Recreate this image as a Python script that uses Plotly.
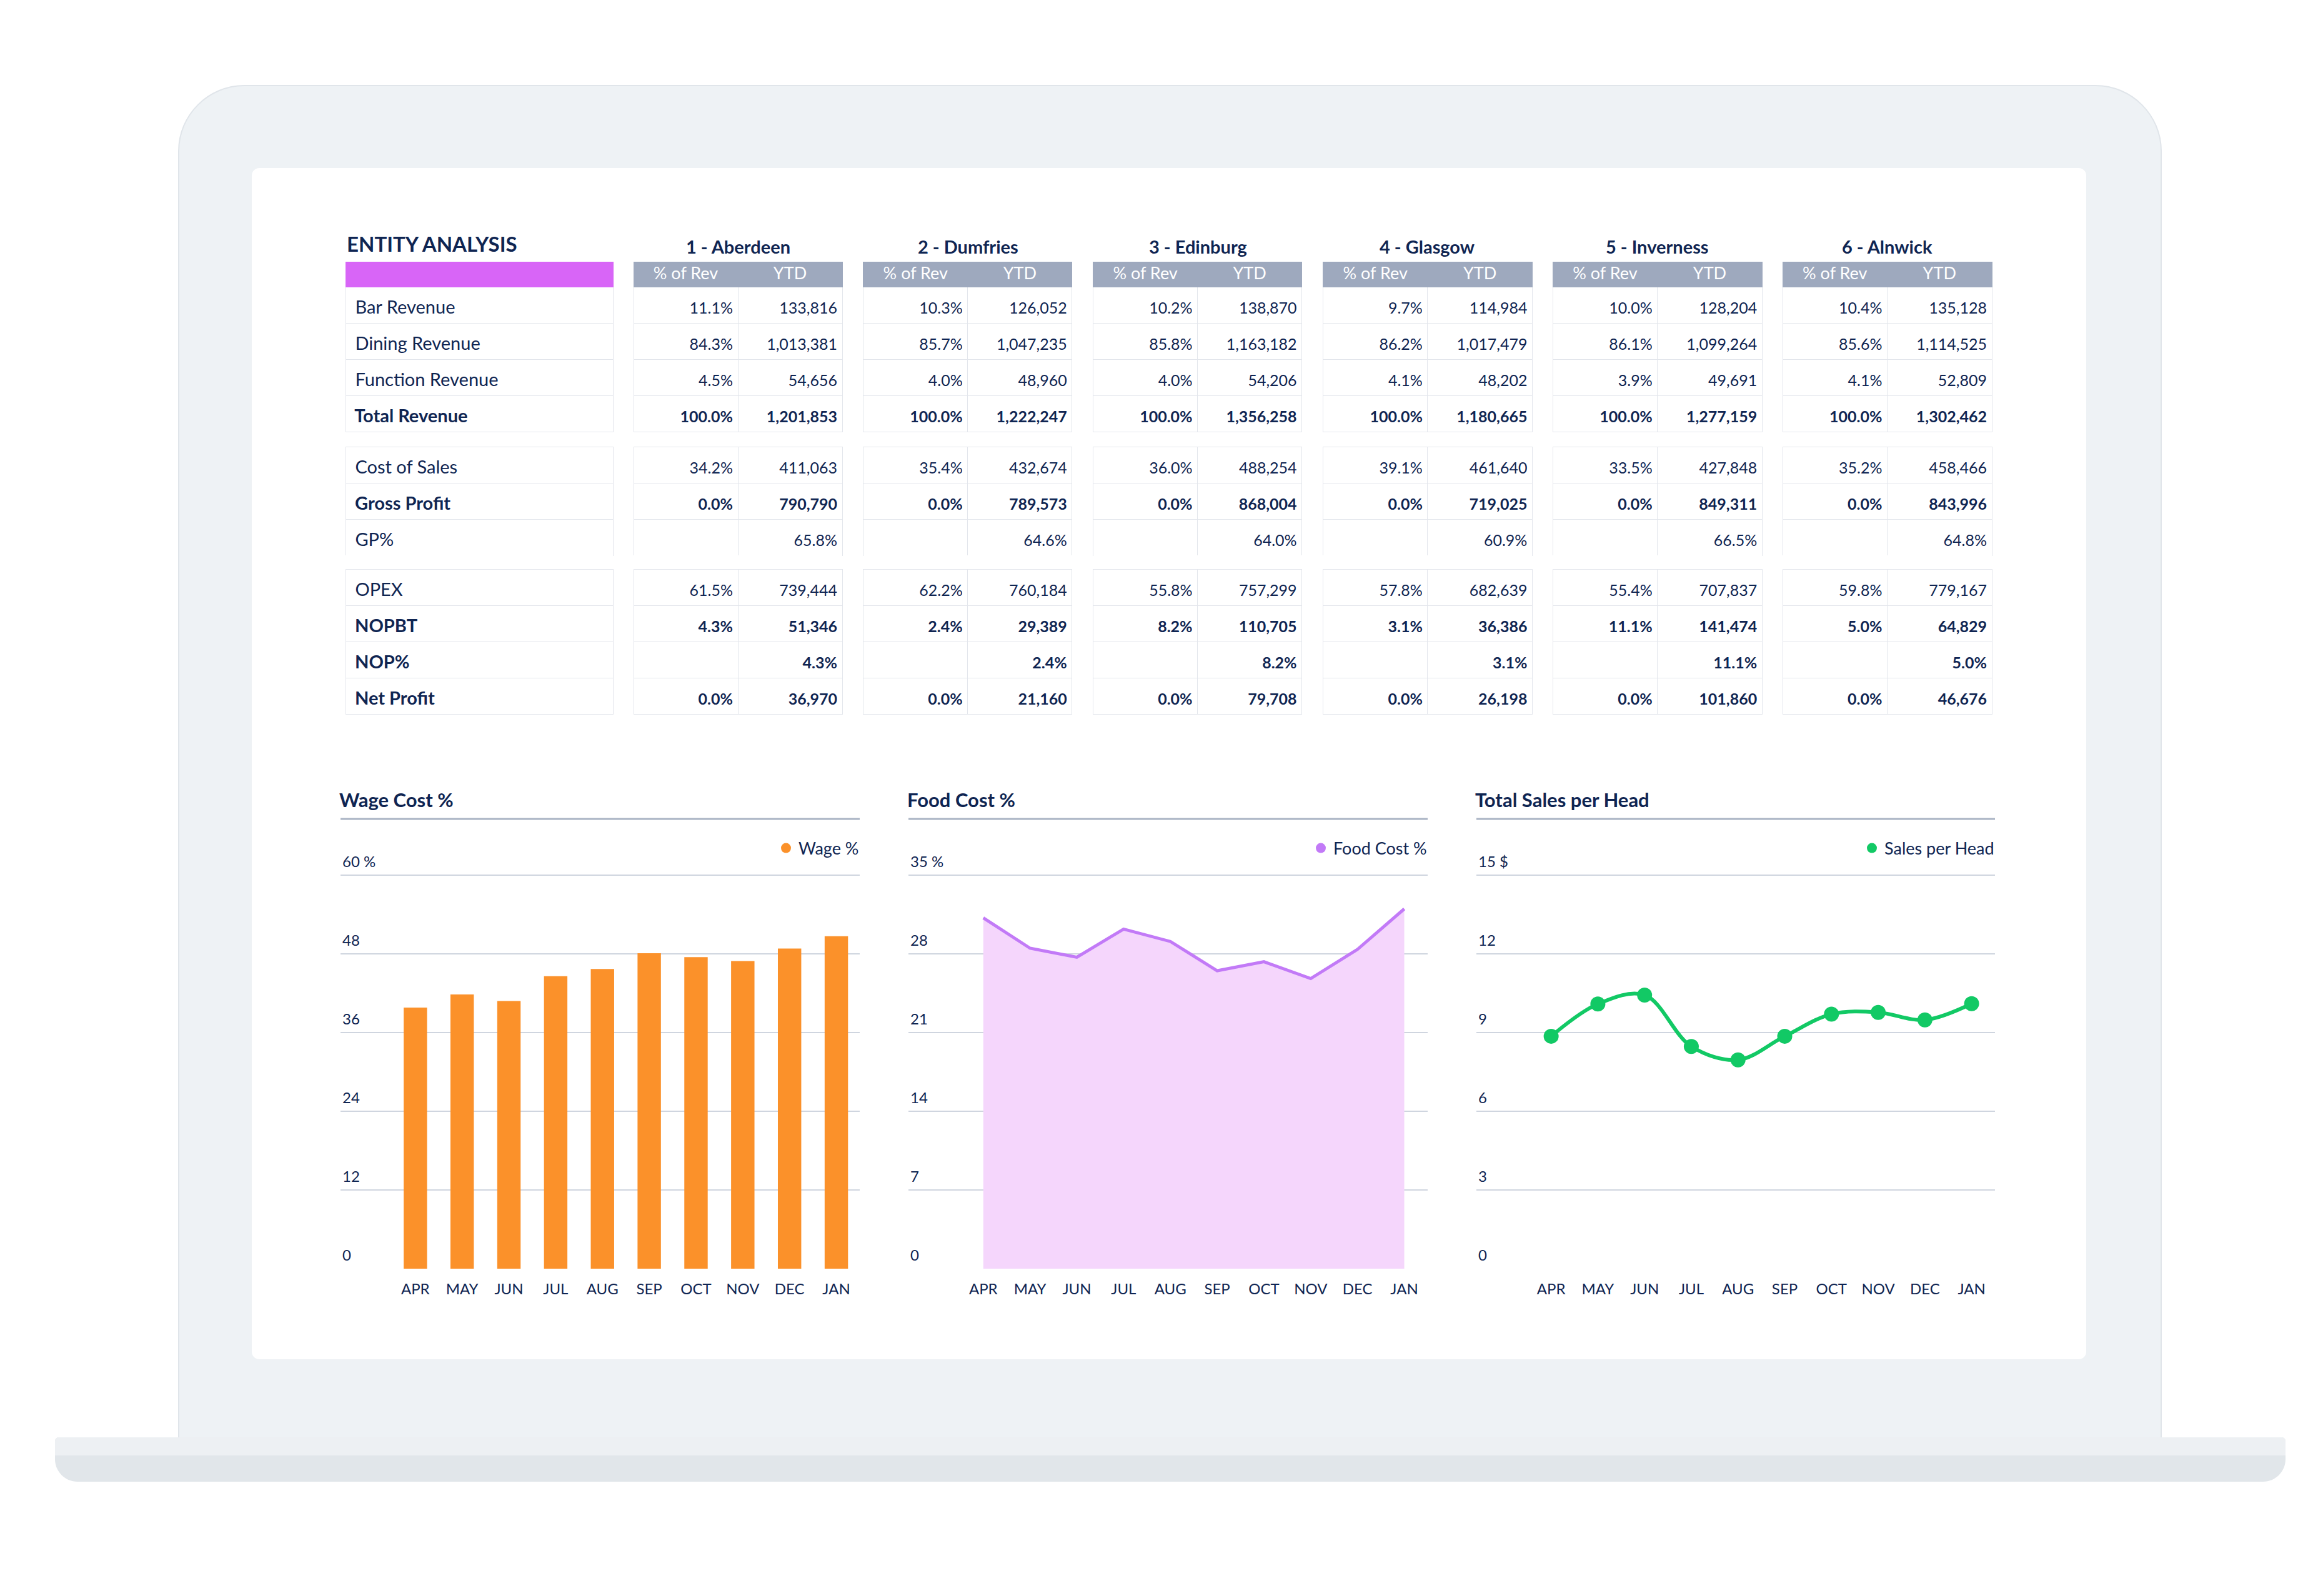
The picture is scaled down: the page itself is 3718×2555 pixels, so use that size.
import plotly.graph_objects as go

W, H = 3718, 2555

# ---- table data ----
entities = ["1 - Aberdeen", "2 - Dumfries", "3 - Edinburg", "4 - Glasgow", "5 - Inverness", "6 - Alnwick"]
row_labels = ["Bar Revenue", "Dining Revenue", "Function Revenue", "Total Revenue",
              "Cost of Sales", "Gross Profit", "GP%",
              "OPEX", "NOPBT", "NOP%", "Net Profit"]
bold_rows = ["Total Revenue", "Gross Profit", "NOPBT", "NOP%", "Net Profit"]
ratio_rows = ["GP%", "NOP%"]
col_heads = ["% of Rev", "YTD"]

# % of Rev column per entity (None = empty cell)
pct_aberdeen = [11.1, 84.3, 4.5, 100.0, 34.2, 0.0, None, 61.5, 4.3, None, 0.0]
pct_dumfries = [10.3, 85.7, 4.0, 100.0, 35.4, 0.0, None, 62.2, 2.4, None, 0.0]
pct_edinburg = [10.2, 85.8, 4.0, 100.0, 36.0, 0.0, None, 55.8, 8.2, None, 0.0]
pct_glasgow = [9.7, 86.2, 4.1, 100.0, 39.1, 0.0, None, 57.8, 3.1, None, 0.0]
pct_inverness = [10.0, 86.1, 3.9, 100.0, 33.5, 0.0, None, 55.4, 11.1, None, 0.0]
pct_alnwick = [10.4, 85.6, 4.1, 100.0, 35.2, 0.0, None, 59.8, 5.0, None, 0.0]

# YTD column per entity (GP% / NOP% rows are percentages)
ytd_aberdeen = [133816, 1013381, 54656, 1201853, 411063, 790790, 65.8, 739444, 51346, 4.3, 36970]
ytd_dumfries = [126052, 1047235, 48960, 1222247, 432674, 789573, 64.6, 760184, 29389, 2.4, 21160]
ytd_edinburg = [138870, 1163182, 54206, 1356258, 488254, 868004, 64.0, 757299, 110705, 8.2, 79708]
ytd_glasgow = [114984, 1017479, 48202, 1180665, 461640, 719025, 60.9, 682639, 36386, 3.1, 26198]
ytd_inverness = [128204, 1099264, 49691, 1277159, 427848, 849311, 66.5, 707837, 141474, 11.1, 101860]
ytd_alnwick = [135128, 1114525, 52809, 1302462, 458466, 843996, 64.8, 779167, 64829, 5.0, 46676]

pct_all = [pct_aberdeen, pct_dumfries, pct_edinburg, pct_glasgow, pct_inverness, pct_alnwick]
ytd_all = [ytd_aberdeen, ytd_dumfries, ytd_edinburg, ytd_glasgow, ytd_inverness, ytd_alnwick]

# ---- chart data ----
months = ["APR", "MAY", "JUN", "JUL", "AUG", "SEP", "OCT", "NOV", "DEC", "JAN"]
wage_pct = [39.8, 41.8, 40.8, 44.6, 45.7, 48.1, 47.5, 46.9, 48.8, 50.7]
food_cost_pct = [31.2, 28.5, 27.7, 30.2, 29.1, 26.5, 27.3, 25.8, 28.4, 32.0]
sales_per_head = [8.86, 10.09, 10.43, 8.47, 7.96, 8.86, 9.70, 9.77, 9.48, 10.10]

wage_ticks = [0, 12, 24, 36, 48, 60]
wage_ticktext = ["0", "12", "24", "36", "48", "60 %"]
food_ticks = [0, 7, 14, 21, 28, 35]
food_ticktext = ["0", "7", "14", "21", "28", "35 %"]
sales_ticks = [0, 3, 6, 9, 12, 15]
sales_ticktext = ["0", "3", "6", "9", "12", "15 $"]

NAVY = "#0f2552"
FONT = "Lato, Roboto, sans-serif"


def X(px):
    return px / W


def Y(px):
    return 1 - px / H


def rrect(x0, y0, x1, y1, rt, rb):
    # rounded rectangle path in paper coords, rt = top radius, rb = bottom radius (px)
    k = 0.45
    p = f"M {X(x0 + rt)},{Y(y0)} L {X(x1 - rt)},{Y(y0)} "
    p += f"C {X(x1 - rt * k)},{Y(y0)} {X(x1)},{Y(y0 + rt * k)} {X(x1)},{Y(y0 + rt)} "
    p += f"L {X(x1)},{Y(y1 - rb)} "
    p += f"C {X(x1)},{Y(y1 - rb * k)} {X(x1 - rb * k)},{Y(y1)} {X(x1 - rb)},{Y(y1)} "
    p += f"L {X(x0 + rb)},{Y(y1)} "
    p += f"C {X(x0 + rb * k)},{Y(y1)} {X(x0)},{Y(y1 - rb * k)} {X(x0)},{Y(y1 - rb)} "
    p += f"L {X(x0)},{Y(y0 + rt)} "
    p += f"C {X(x0)},{Y(y0 + rt * k)} {X(x0 + rt * k)},{Y(y0)} {X(x0 + rt)},{Y(y0)} Z"
    return p


def fmt_pct(v):
    return "" if v is None else f"{v:.1f}%"


def fmt_ytd(label, v):
    return f"{v:.1f}%" if label in ratio_rows else f"{v:,.0f}"


def cell(label, s, size):
    # a small blank first line pushes the text down to the middle of the row
    if not s:
        return ""
    if label in bold_rows:
        s = f"<b>{s}</b>"
    return f"\u00a0<br><span style='font-size:{size}px'>{s}</span>"


fig = go.Figure()

# ---- laptop frame ----
def frame_shape(path, fill, line=None):
    return dict(type="path", xref="paper", yref="paper", path=path, fillcolor=fill,
                line=line or dict(width=0), layer="below")


shapes = [
    frame_shape(rrect(278, 129, 3451, 2296, 105, 0), "#eef2f5", dict(color="#e0e5ea", width=2)),
    frame_shape(rrect(395, 261, 3331, 2168, 12, 12), "#ffffff"),
    frame_shape(rrect(80, 2293, 3650, 2364, 6, 36), "#e1e6ea"),
    frame_shape(rrect(80, 2293, 3650, 2322, 6, 0), "#edf0f3"),
]

# ---- table ----
ROW_H, HEAD_H, GAP_H = 58, 40, 22
LABEL_SIZE, NUM_SIZE = 29, 25
segments = [(0, 4, 411), (4, 7, 685), (7, 11, 881)]
label_x = (545, 973)
block_x0, block_w, block_step = 1006, 335, 367.8
cell_line = dict(color="#e3e6ec", width=1)
base_font = dict(family=FONT, size=15, color=NAVY)

for si, (r0, r1, top) in enumerate(segments):
    labels = row_labels[r0:r1]
    hh = HEAD_H if si == 0 else GAP_H
    dom_y = [Y(top + hh + ROW_H * (r1 - r0) + 40), Y(top)]
    # blank white header acts as the gap between row groups
    gap_head = dict(values=[""], height=GAP_H, fill_color="white", line=dict(color="white", width=0),
                    font=dict(size=1))
    head = dict(values=[""], fill_color="#d865f7", line_color="#d865f7", height=HEAD_H) if si == 0 else gap_head
    fig.add_trace(go.Table(
        domain=dict(x=[X(label_x[0]), X(label_x[1])], y=dom_y),
        header=head,
        cells=dict(values=[[cell(l, "\u00a0" + l, LABEL_SIZE) for l in labels]], align="left",
                   height=ROW_H, fill_color="white", line=cell_line, font=base_font),
    ))
    for ei in range(len(entities)):
        x0 = block_x0 + ei * block_step
        pcol = [cell(l, fmt_pct(v), NUM_SIZE) for l, v in zip(labels, pct_all[ei][r0:r1])]
        ycol = [cell(l, fmt_ytd(l, v), NUM_SIZE) for l, v in zip(labels, ytd_all[ei][r0:r1])]
        if si == 0:
            head = dict(values=col_heads, fill_color="#9ea9be", line_color="#9ea9be", height=HEAD_H,
                        align="center", font=dict(family=FONT, size=27, color="white"))
        else:
            head = dict(gap_head, values=["", ""])
        fig.add_trace(go.Table(
            domain=dict(x=[X(x0), X(x0 + block_w)], y=dom_y),
            columnwidth=[1, 1],
            header=head,
            cells=dict(values=[pcol, ycol], align="right", height=ROW_H,
                       fill_color="white", line=cell_line, font=base_font),
        ))

annotations = [dict(text="<b>ENTITY ANALYSIS</b>", x=X(545), y=Y(382), xref="paper", yref="paper",
                    xanchor="left", yanchor="middle", showarrow=False,
                    font=dict(family=FONT, size=33, color=NAVY))]
for ei, name in enumerate(entities):
    annotations.append(dict(text=f"<b>{name}</b>", x=X(block_x0 + ei * block_step + block_w / 2), y=Y(386),
                            xref="paper", yref="paper", xanchor="center", yanchor="middle",
                            showarrow=False, font=dict(family=FONT, size=29, color=NAVY)))

# ---- charts ----
chart_x = [(537, 1368), (1446, 2277), (2355, 3185)]
plot_top, plot_bottom = 1393, 2023
HEADROOM = 50
titles = ["Wage Cost %", "Food Cost %", "Total Sales per Head"]

fig.add_trace(go.Bar(x=months, y=wage_pct, width=0.5, marker=dict(color="#fb912a", line=dict(width=0)),
                     xaxis="x", yaxis="y", showlegend=False))
fig.add_trace(go.Scatter(x=months, y=food_cost_pct, mode="lines", fill="tozeroy", fillcolor="#f5d6fc",
                         line=dict(color="#c27af7", width=5), xaxis="x2", yaxis="y2", showlegend=False))
fig.add_trace(go.Scatter(x=months, y=sales_per_head, mode="lines+markers",
                         line=dict(color="#12c965", width=6, shape="spline", smoothing=1.0),
                         marker=dict(color="#12c965", size=24), xaxis="x3", yaxis="y3", showlegend=False))

# legend entries (circle markers like the original)
legend_items = [("Wage %", "#fb912a", "x", "y", "legend"),
                ("Food Cost %", "#c27af7", "x2", "y2", "legend2"),
                ("Sales per Head", "#12c965", "x3", "y3", "legend3")]
for name, color, xa, ya, lg in legend_items:
    fig.add_trace(go.Scatter(x=[None], y=[None], mode="markers", name=name,
                             marker=dict(color=color, size=26), xaxis=xa, yaxis=ya, legend=lg))

y_ticks = [(wage_ticks, wage_ticktext), (food_ticks, food_ticktext), (sales_ticks, sales_ticktext)]
layout_axes = {}
for i, (cx0, cx1) in enumerate(chart_x):
    sfx = "" if i == 0 else str(i + 1)
    tv, tt = y_ticks[i]
    per_px = tv[-1] / (plot_bottom - plot_top)
    layout_axes["xaxis" + sfx] = dict(
        domain=[X(cx0), X(cx1)], anchor="y" + sfx, type="category", categoryorder="array",
        categoryarray=months, range=[-1.6, 9.5], showgrid=False, zeroline=False, showline=False,
        ticks="", ticklabelstandoff=16, tickfont=dict(family=FONT, size=24, color=NAVY), fixedrange=True)
    layout_axes["yaxis" + sfx] = dict(
        domain=[Y(plot_bottom), Y(plot_top - HEADROOM)], anchor="x" + sfx,
        range=[0, tv[-1] + HEADROOM * per_px],
        tickvals=tv, ticktext=tt, ticklabelposition="inside top", ticklabelshift=-5, showgrid=True,
        gridcolor="#cfd5df", gridwidth=2, zeroline=False, showline=False, ticks="",
        tickfont=dict(family=FONT, size=24, color=NAVY), fixedrange=True)
    annotations.append(dict(text=f"<b>{titles[i]}</b>", x=0, xref="x" + sfx + " domain", xshift=-4,
                            y=Y(1272), yref="paper", xanchor="left", yanchor="middle", showarrow=False,
                            font=dict(family=FONT, size=31, color=NAVY)))
    shapes.append(dict(type="line", xref="x" + sfx + " domain", x0=0, x1=1, yref="paper",
                       y0=Y(1303), y1=Y(1303), line=dict(color="#a9b3c4", width=3)))
    lg = "legend" + sfx
    layout_axes[lg] = dict(x=X(cx1 + 4), xanchor="right", y=Y(1350), yanchor="middle",
                           bgcolor="rgba(0,0,0,0)", font=dict(family=FONT, size=27, color=NAVY),
                           itemclick=False)

fig.update_layout(
    width=W, height=H,
    margin=dict(l=0, r=0, t=0, b=0),
    paper_bgcolor="white",
    plot_bgcolor="rgba(0,0,0,0)",
    font=dict(family=FONT, color=NAVY),
    shapes=shapes,
    annotations=annotations,
    **layout_axes,
)

fig.write_html("out.html")
